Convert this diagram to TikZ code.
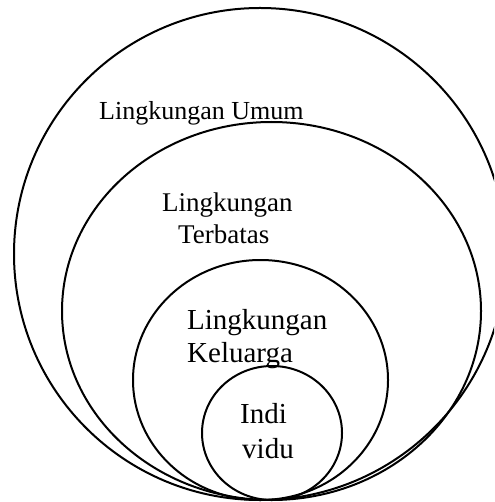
\documentclass[tikz,border=0pt]{standalone}
\usepackage{fontspec}
\setmainfont{Liberation Serif}
\begin{document}
\begin{tikzpicture}[x=1pt,y=-1pt,
  ring/.style={draw=black,line width=2pt},
  lbl/.style={inner sep=0pt,anchor=base west,text=black}]
\useasboundingbox (0,0) rectangle (494,502);
\clip (0,0) rectangle (494,502);
\draw[ring] (260,254) ellipse [x radius=246,y radius=246];
\draw[ring] (271.5,311) ellipse [x radius=209.5,y radius=189];
\draw[ring] (260.5,380) ellipse [x radius=127.5,y radius=120];
\draw[ring] (272,433) ellipse [x radius=70,y radius=67];
\node[lbl,font=\fontsize{26}{30}\selectfont] (umum) at (99,120) {Lingkungan Umum};
\node[lbl,font=\fontsize{27}{31}\selectfont] (terb1) at (162,212) {Lingkungan};
\node[lbl,font=\fontsize{27}{31}\selectfont] (terb2) at (178,243) {Terbatas};
\node[lbl,font=\fontsize{29}{33}\selectfont] (kel1) at (187,329) {Lingkungan};
\node[lbl,font=\fontsize{29}{33}\selectfont] (kel2) at (187,362) {Keluarga};
\node[lbl,font=\fontsize{29}{33}\selectfont] (ind1) at (240,423) {Indi};
\node[lbl,font=\fontsize{29}{33}\selectfont] (ind2) at (242,458) {vidu};
\end{tikzpicture}
\end{document}
